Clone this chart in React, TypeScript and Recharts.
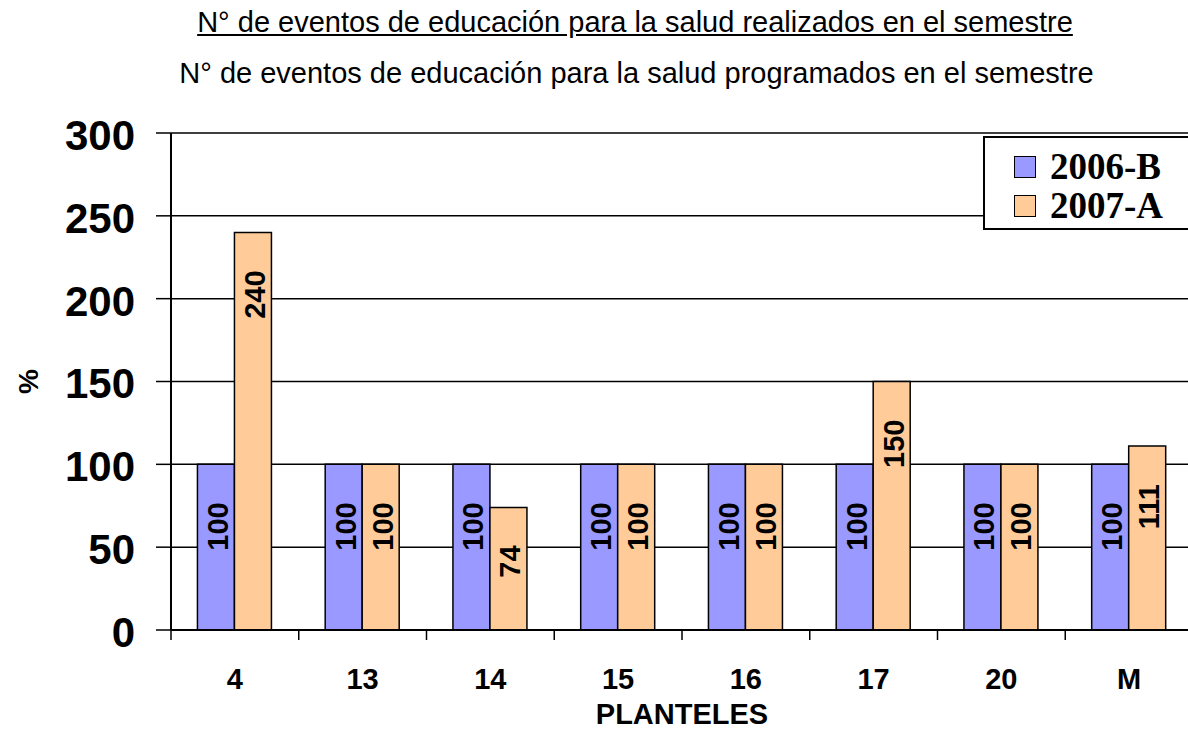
import React from "react";
import {
  BarChart,
  Bar,
  XAxis,
  YAxis,
  CartesianGrid,
  LabelList,
} from "recharts";

const planteles = ["4", "13", "14", "15", "16", "17", "20", "M"];
const serie2006B = [100, 100, 100, 100, 100, 100, 100, 100];
const serie2007A = [240, 100, 74, 100, 100, 150, 100, 111];
const yTicks = [0, 50, 100, 150, 200, 250, 300];
const seriesNames = ["2006-B", "2007-A"];

const data = planteles.map((p, i) => ({
  plantel: p,
  b2006: serie2006B[i],
  a2007: serie2007A[i],
}));

const W = 1200;
const H = 731;
const M = { top: 133, right: 7, left: 0, bottom: 0 };
const Y_W = 171;
const BAND = (W - Y_W - M.right) / planteles.length;

const BLUE = "#9999FF";
const ORANGE = "#FFCC99";
const ARIAL = "Arial, 'Liberation Sans', sans-serif";

// etiqueta rotada dentro de la barra
function ValueLabel(props: any) {
  const { x, y, width, value } = props;
  const cx = Number(x) + Number(width) / 2 + 2;
  const cy = Number(y) + 38;
  return (
    <text
      x={cx}
      y={cy}
      transform={`rotate(-90 ${cx} ${cy})`}
      textAnchor="end"
      dominantBaseline="central"
      fontFamily={ARIAL}
      fontWeight="bold"
      fontSize={29}
      fill="#000"
    >
      {value}
    </text>
  );
}

// tick del eje X: marca en los limites de categoria
function XTick(props: any) {
  const { x, y, payload, index } = props;
  const left = x - BAND / 2;
  const last = index === planteles.length - 1;
  return (
    <g>
      <line x1={left} y1={y - 8} x2={left} y2={y + 2} stroke="#000" strokeWidth={1.5} />
      {last && (
        <line x1={x + BAND / 2} y1={y - 8} x2={x + BAND / 2} y2={y + 2} stroke="#000" strokeWidth={1.5} />
      )}
      <text x={x} y={y + 51} textAnchor="middle" fontFamily={ARIAL} fontWeight="bold" fontSize={29} fill="#000">
        {payload.value}
      </text>
    </g>
  );
}

function LegendBox() {
  const colors = [BLUE, ORANGE];
  return (
    <div
      style={{
        position: "absolute",
        left: 983,
        top: 136,
        border: "2px solid #000",
        background: "#fff",
        width: 230,
        height: 94,
        boxSizing: "border-box",
        paddingTop: 9,
        paddingLeft: 29,
      }}
    >
      {seriesNames.map((label, i) => (
        <div key={label} style={{ display: "flex", alignItems: "center", height: 39 }}>
          <div
            style={{
              width: 22,
              height: 22,
              background: colors[i],
              border: "1.5px solid #000",
              boxSizing: "border-box",
              marginRight: 14,
            }}
          />
          <span
            style={{
              fontFamily: "'Times New Roman', 'Liberation Serif', serif",
              fontWeight: "bold",
              fontSize: 37,
              lineHeight: "39px",
            }}
          >
            {label}
          </span>
        </div>
      ))}
    </div>
  );
}

export default function App() {
  return (
    <div
      style={{
        position: "absolute",
        left: 0,
        top: 0,
        width: 1188,
        height: 731,
        overflow: "hidden",
        background: "#fff",
      }}
    >
      <div
        style={{
          position: "absolute",
          left: 0,
          width: 1270,
          top: 6,
          textAlign: "center",
          fontFamily: ARIAL,
          fontSize: 29,
          textDecoration: "underline",
        }}
      >
        N° de eventos de educación para la salud realizados en el semestre
      </div>
      <div
        style={{
          position: "absolute",
          left: 0,
          width: 1273,
          top: 57,
          textAlign: "center",
          fontFamily: ARIAL,
          fontSize: 29,
        }}
      >
        N° de eventos de educación para la salud programados en el semestre
      </div>
      <div style={{ position: "absolute", left: 0, top: 0 }}>
        <BarChart width={W} height={H} data={data} margin={M} barCategoryGap="20.7%" barGap={0}>
          <CartesianGrid horizontal vertical={false} stroke="#000" strokeWidth={1.5} />
          <XAxis
            dataKey="plantel"
            height={101}
            tickLine={false}
            axisLine={{ stroke: "#000", strokeWidth: 2 }}
            tick={<XTick />}
            interval={0}
            label={{
              value: "PLANTELES",
              position: "insideBottom",
              offset: 7,
              style: { fontFamily: ARIAL, fontWeight: "bold", fontSize: 29, fill: "#000" },
            }}
          />
          <YAxis
            width={Y_W}
            domain={[0, 300]}
            ticks={yTicks}
            interval={0}
            tickSize={15}
            tickMargin={21}
            tickLine={{ stroke: "#000", strokeWidth: 1.5 }}
            axisLine={{ stroke: "#000", strokeWidth: 2 }}
            tick={{ fontFamily: ARIAL, fontWeight: "bold", fontSize: 42, fill: "#000", dy: 2 }}
            label={{
              value: "%",
              angle: -90,
              position: "insideLeft",
              offset: 28,
              style: { fontFamily: ARIAL, fontWeight: "bold", fontSize: 28, fill: "#000", textAnchor: "middle" },
            }}
          />
          <Bar dataKey="b2006" name={seriesNames[0]} fill={BLUE} stroke="#000" strokeWidth={1.5} isAnimationActive={false}>
            <LabelList dataKey="b2006" content={<ValueLabel />} />
          </Bar>
          <Bar dataKey="a2007" name={seriesNames[1]} fill={ORANGE} stroke="#000" strokeWidth={1.5} isAnimationActive={false}>
            <LabelList dataKey="a2007" content={<ValueLabel />} />
          </Bar>
        </BarChart>
      </div>
      <LegendBox />
    </div>
  );
}
